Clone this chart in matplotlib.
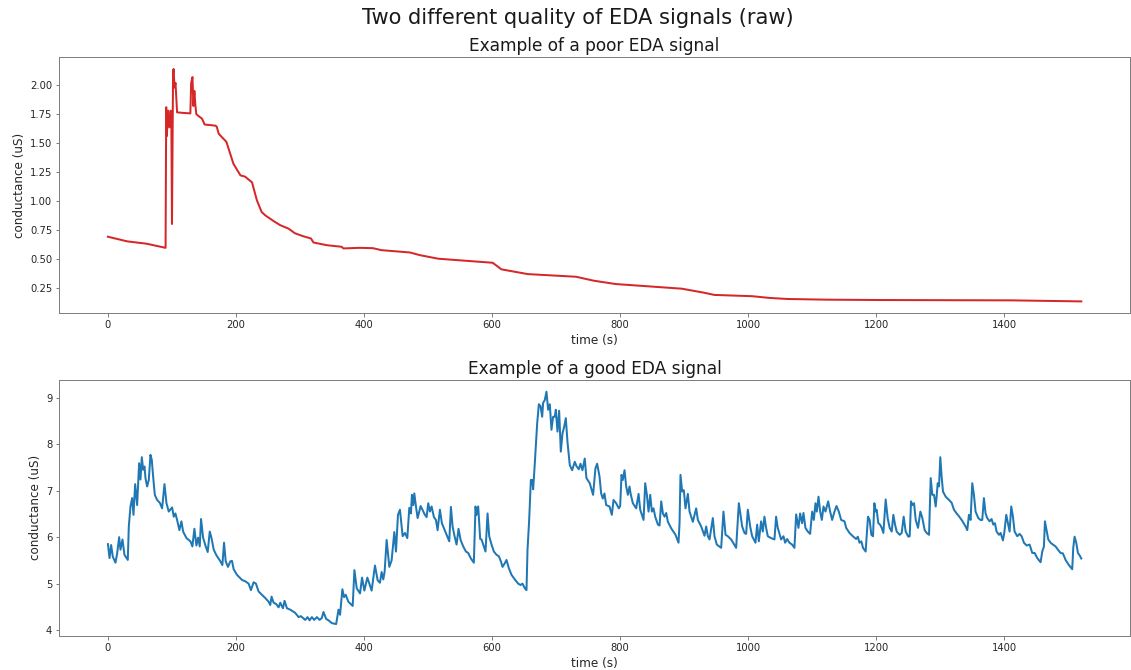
import matplotlib
matplotlib.use("Agg")
import matplotlib.pyplot as plt

# Poor-quality recording: time (s) and skin conductance (uS)
poor_time = [0, 30, 60, 90, 91, 92, 94, 96, 98, 99, 100, 101.7, 102.5, 104, 105.5, 108,
             118, 128.7, 130, 132, 133.5, 135, 136.5, 138, 141, 147, 151, 168, 170,
             173, 185, 196, 207, 214, 225, 232.6, 240, 245.6, 258.5, 269, 282, 292,
             305, 317, 321, 341.7, 365, 367.6, 393.6, 414, 427, 471.5, 487, 515.7,
             549.5, 600.8, 614.5, 655.6, 731, 758.6, 793, 896, 930, 947, 1006, 1033,
             1061, 1122.5, 1205, 1411, 1520]
poor_value = [0.69, 0.65, 0.63, 0.594, 1.81, 1.56, 1.78, 1.635, 1.78, 1.72, 0.80, 2.10,
              2.14, 1.98, 2.02, 1.765, 1.76, 1.756, 2.02, 2.07, 1.82, 1.95, 1.83, 1.75,
              1.735, 1.71, 1.66, 1.65, 1.64, 1.58, 1.51, 1.32, 1.22, 1.21, 1.16, 1.005,
              0.904, 0.875, 0.826, 0.79, 0.76, 0.72, 0.694, 0.675, 0.64, 0.617, 0.603,
              0.589, 0.594, 0.591, 0.574, 0.554, 0.531, 0.50, 0.486, 0.465, 0.408, 0.367,
              0.344, 0.31, 0.281, 0.241, 0.207, 0.187, 0.176, 0.161, 0.152, 0.146, 0.143,
              0.14, 0.131]

# Good-quality recording: time (s) and skin conductance (uS)
good_time = [0, 2.5, 5, 7.6, 11.8, 14.4, 17.5, 19.6, 22.7, 25.8, 31, 32.6, 35.2, 37.8,
             39.9, 42.5, 45.6, 48.7, 50.8, 52.9, 55, 57.1, 58.6, 61.2, 63.8, 66.4, 68.5,
             70.6, 73.2, 76.8, 81, 84.6, 88.3, 91.4, 95, 100.2, 102.8, 105.4, 108, 111.6,
             114.8, 117.4, 122.6, 128.8, 131.9, 135, 138.2, 140.8, 143.4, 145.4, 148.6,
             152.7, 155.8, 159, 161.6, 165.2, 169.4, 175.6, 178.7, 181.3, 183.9, 187.5,
             191.1, 193.7, 196.3, 201.5, 209.3, 214.5, 219.7, 223.3, 227.5, 231.1, 235.3,
             240.5, 245.7, 250.9, 253.5, 255.5, 258.7, 262.8, 266.5, 269.1, 273.2, 275.8,
             279.5, 284.7, 292.5, 297.7, 301.3, 308.1, 311.7, 314.8, 318.5, 322.1, 326.3,
             330.4, 334, 336.6, 340.8, 344.5, 349.7, 356.4, 360, 362.5, 366.1, 368.7,
             371.3, 375.5, 382.2, 384.9, 388.5, 393.7, 396.8, 400.4, 405.1, 411.8, 417,
             421.2, 424.8, 427.4, 430, 432.1, 435.2, 439.4, 443, 447.2, 449.8, 452.9, 456,
             460.2, 463.8, 467.5, 470.6, 473.2, 474.7, 476.8, 478.4, 481, 483.6, 488.3,
             495, 497.6, 500.2, 502.8, 505.4, 509.1, 512.2, 514.8, 518.4, 521.5, 526.2,
             531.4, 533, 535.6, 538.2, 541.3, 544.4, 547.5, 550.7, 554.8, 559, 562.6,
             566.8, 571.4, 574, 575.6, 578.2, 581.3, 583.4, 587, 589.6, 592.8, 595.4, 599,
             602.7, 606.8, 610.4, 613.6, 616.2, 619.8, 622.4, 626.1, 630.2, 635.4, 640.6,
             644.3, 647.4, 651, 653.6, 655.2, 657.8, 660.4, 662.5, 664, 666.6, 670.3,
             672.9, 675.5, 678.1, 679.6, 682.2, 684.8, 687.4, 690, 692.6, 695.2, 697.8,
             699.4, 702, 704.6, 707.2, 709.8, 712.4, 715, 717.6, 721.2, 724.9, 729, 731.6,
             735.3, 737.9, 741, 744.6, 747.2, 752.4, 757.6, 761.3, 763.9, 767.6, 770.2,
             772.8, 775.4, 778, 783.2, 786.9, 789.5, 793.6, 797.8, 799.9, 802, 804, 806.7,
             809.3, 811.9, 814.5, 816.1, 819.7, 824.9, 828.6, 831.2, 836.4, 839, 841.6,
             844.2, 846.8, 849.4, 852, 854.6, 858.8, 861.4, 864, 866.6, 869.2, 871.8,
             874.4, 879.6, 886.3, 891, 892.6, 894.1, 896.7, 899.3, 901.9, 905.6, 908.2,
             913.4, 918.6, 921.2, 926.4, 931.6, 934.2, 936.8, 939.4, 944.6, 947.2, 950.8,
             957.6, 961.2, 964.4, 968, 973.2, 981, 985.2, 987.8, 990.4, 994, 996.6, 999.2,
             1002.9, 1006, 1011.2, 1013.8, 1016.4, 1020, 1022.6, 1025.2, 1027.8, 1030.4,
             1035.6, 1040.8, 1043.4, 1046, 1051.2, 1054.9, 1057.5, 1060.6, 1064.2, 1068.4,
             1072, 1074.7, 1078.3, 1080.9, 1084, 1086.1, 1089.2, 1092.9, 1096.5, 1099.7,
             1102.3, 1104.9, 1107, 1109.6, 1112.2, 1114.8, 1117.4, 1120.5, 1124.7, 1127.8,
             1130.9, 1134.6, 1137.7, 1141.3, 1145, 1150.2, 1152.8, 1158, 1163.2, 1168.4,
             1171, 1173.6, 1176.5, 1179.1, 1183.2, 1186.9, 1189.5, 1192.1, 1194.7, 1196.8,
             1198.9, 1200.4, 1203, 1205.7, 1208.3, 1210.9, 1214.5, 1217.6, 1220.7, 1223.9,
             1226.5, 1229.1, 1231.7, 1236.4, 1239.5, 1242.6, 1245.7, 1249.9, 1252, 1254.1,
             1256.2, 1258.8, 1261.4, 1265, 1268.7, 1271.8, 1275.4, 1278.5, 1282.2, 1284.8,
             1287.4, 1290, 1292.6, 1294.1, 1295.7, 1297.8, 1299.8, 1301.9, 1304, 1308.2,
             1313.4, 1317.5, 1321.1, 1325.3, 1328.9, 1334.1, 1339.3, 1341.9, 1344.5,
             1347.1, 1349.7, 1352.3, 1354.9, 1359.1, 1362.7, 1365.3, 1367.9, 1370.5,
             1373.1, 1376.8, 1379.9, 1382.5, 1385.1, 1387.7, 1391.4, 1394, 1397.6, 1399.7,
             1402.8, 1405.4, 1408, 1410.6, 1413.2, 1415.8, 1420, 1423.6, 1426.8, 1430.4,
             1434.6, 1439.3, 1443.4, 1447.1, 1451.2, 1456.4, 1459, 1461.6, 1463.2, 1465.8,
             1468.4, 1472, 1475.7, 1479.8, 1483.5, 1487.6, 1491.3, 1495.4, 1500.6, 1505.8,
             1507.4, 1509.5, 1512.1, 1514.7, 1517.3, 1520]
good_value = [5.85, 5.55, 5.83, 5.58, 5.45, 5.65, 6.0, 5.73, 5.95, 5.62, 5.51, 6.23, 6.66,
              6.84, 6.48, 7.14, 6.69, 7.59, 7.24, 7.72, 7.45, 7.52, 7.27, 7.09, 7.23, 7.77,
              7.66, 7.30, 6.91, 6.80, 6.74, 6.62, 7.14, 6.73, 6.55, 6.64, 6.44, 6.51, 6.37,
              6.15, 6.34, 6.12, 5.98, 5.91, 5.80, 6.18, 5.82, 5.99, 5.80, 6.39, 5.99, 5.80,
              5.68, 6.12, 5.99, 5.73, 5.61, 5.48, 5.40, 5.88, 5.48, 5.36, 5.48, 5.49, 5.31,
              5.19, 5.08, 5.05, 5.00, 4.86, 5.03, 5.00, 4.83, 4.76, 4.69, 4.61, 4.54, 4.72,
              4.59, 4.56, 4.49, 4.59, 4.47, 4.63, 4.47, 4.44, 4.37, 4.28, 4.30, 4.22, 4.28,
              4.21, 4.28, 4.22, 4.28, 4.22, 4.26, 4.39, 4.24, 4.21, 4.15, 4.13, 4.44, 4.33,
              4.88, 4.71, 4.76, 4.61, 4.52, 5.29, 4.90, 4.79, 5.13, 4.85, 5.13, 4.85, 5.39,
              5.07, 5.02, 5.25, 5.09, 5.26, 5.94, 5.36, 5.50, 6.11, 5.69, 6.48, 6.59, 6.02,
              6.09, 5.98, 6.63, 6.51, 6.91, 6.69, 6.94, 6.66, 6.41, 6.67, 6.48, 6.43, 6.73,
              6.55, 6.66, 6.43, 6.37, 6.15, 6.59, 6.30, 6.14, 5.96, 5.91, 6.65, 6.23, 6.02,
              5.84, 6.18, 5.94, 5.80, 5.69, 5.66, 5.54, 5.45, 6.66, 6.48, 6.66, 5.96, 5.95,
              5.80, 5.69, 6.51, 6.02, 5.84, 5.69, 5.62, 5.59, 5.48, 5.36, 5.44, 5.51, 5.33,
              5.19, 5.09, 5.00, 4.97, 5.00, 4.90, 4.86, 5.73, 6.37, 7.23, 7.23, 7.03, 7.59,
              8.45, 8.86, 8.82, 8.59, 8.89, 8.95, 9.13, 8.74, 8.86, 8.31, 8.59, 8.59, 8.74,
              8.27, 8.72, 7.84, 8.23, 8.37, 8.56, 8.05, 7.55, 7.44, 7.62, 7.53, 7.46, 7.58,
              7.44, 7.69, 7.27, 7.16, 6.91, 7.48, 7.58, 7.31, 6.94, 6.83, 6.94, 6.69, 6.66,
              6.48, 6.80, 6.73, 6.62, 6.67, 7.34, 7.23, 7.44, 7.09, 6.91, 7.09, 6.94, 6.73,
              6.62, 6.93, 6.59, 6.37, 7.16, 6.91, 6.55, 6.91, 6.55, 6.62, 6.44, 6.27, 6.25,
              6.77, 6.51, 6.44, 6.52, 6.33, 6.19, 6.05, 5.88, 6.30, 7.34, 6.98, 7.01, 6.62,
              6.93, 6.55, 6.33, 6.62, 6.37, 6.23, 6.03, 6.23, 6.02, 5.95, 6.41, 6.02, 5.84,
              5.77, 6.55, 6.05, 6.02, 5.95, 5.77, 6.73, 6.48, 6.23, 6.09, 6.07, 6.59, 6.23,
              6.02, 5.88, 6.27, 5.91, 6.34, 6.12, 6.44, 6.20, 6.02, 5.98, 5.95, 6.44, 6.20,
              5.95, 6.02, 5.88, 5.96, 5.88, 5.84, 5.77, 6.49, 6.20, 6.51, 6.30, 6.52, 6.20,
              6.12, 6.07, 6.55, 6.37, 6.73, 6.55, 6.87, 6.55, 6.37, 6.66, 6.55, 6.77, 6.55,
              6.37, 6.55, 6.67, 6.55, 6.37, 6.34, 6.20, 6.09, 6.02, 5.96, 6.01, 5.88, 5.91,
              5.77, 5.69, 6.44, 6.37, 6.05, 6.02, 6.73, 6.55, 6.59, 6.30, 6.27, 6.20, 6.09,
              6.81, 6.41, 6.20, 6.12, 6.48, 6.27, 6.12, 6.05, 6.09, 6.44, 6.12, 6.01, 6.02,
              6.77, 6.69, 6.73, 6.37, 6.20, 6.55, 6.41, 6.15, 6.09, 6.05, 7.27, 6.91, 6.91,
              6.66, 6.88, 7.16, 7.09, 7.72, 7.30, 6.98, 6.87, 6.80, 6.74, 6.59, 6.51, 6.45,
              6.35, 6.23, 6.15, 6.48, 6.37, 7.16, 6.91, 6.55, 6.41, 6.37, 6.37, 6.84, 6.51,
              6.41, 6.34, 6.39, 6.27, 6.30, 6.12, 6.05, 6.09, 5.93, 6.09, 6.48, 6.30, 6.12,
              6.66, 6.44, 6.12, 6.02, 6.07, 6.02, 5.88, 5.82, 5.84, 5.66, 5.66, 5.55, 5.46,
              5.69, 5.80, 6.34, 6.15, 5.95, 5.88, 5.84, 5.80, 5.73, 5.66, 5.65, 5.51, 5.40,
              5.31, 5.77, 6.01, 5.88, 5.66, 5.61, 5.54]

DPI = 72
fig = plt.figure(figsize=(1131 / DPI, 670 / DPI), dpi=DPI)

spine_color = "#7f7f7f"
text_color = "#262626"


def style_axes(ax):
    for side in ax.spines.values():
        side.set_color(spine_color)
        side.set_linewidth(1.0)
    ax.tick_params(axis="both", colors=spine_color, labelcolor=text_color,
                   labelsize=10, length=3.5, width=1.0)
    ax.set_xlabel("time (s)", fontsize=12, color=text_color)
    ax.set_ylabel("conductance (uS)", fontsize=12, color=text_color)


ax_poor = fig.add_axes([0.0524, 0.5328, 0.9467, 0.3816])
ax_poor.plot(poor_time, poor_value, color="#d62728", linewidth=2.0)
ax_poor.set_title("Example of a poor EDA signal", fontsize=17, color="#1a1a1a")
ax_poor.set_yticks([0.25, 0.50, 0.75, 1.00, 1.25, 1.50, 1.75, 2.00])
style_axes(ax_poor)

ax_good = fig.add_axes([0.0524, 0.0512, 0.9467, 0.3816])
ax_good.plot(good_time, good_value, color="#1f77b4", linewidth=2.0)
ax_good.set_title("Example of a good EDA signal", fontsize=17, color="#1a1a1a")
ax_good.set_yticks([4, 5, 6, 7, 8, 9])
style_axes(ax_good)

for ax in (ax_poor, ax_good):
    ax.set_xticks([0, 200, 400, 600, 800, 1000, 1200, 1400])

fig.text(0.511, 0.973, "Two different quality of EDA signals (raw)", fontsize=21,
         ha="center", va="center", color="#1a1a1a")

fig.savefig("out.png", dpi=DPI)
